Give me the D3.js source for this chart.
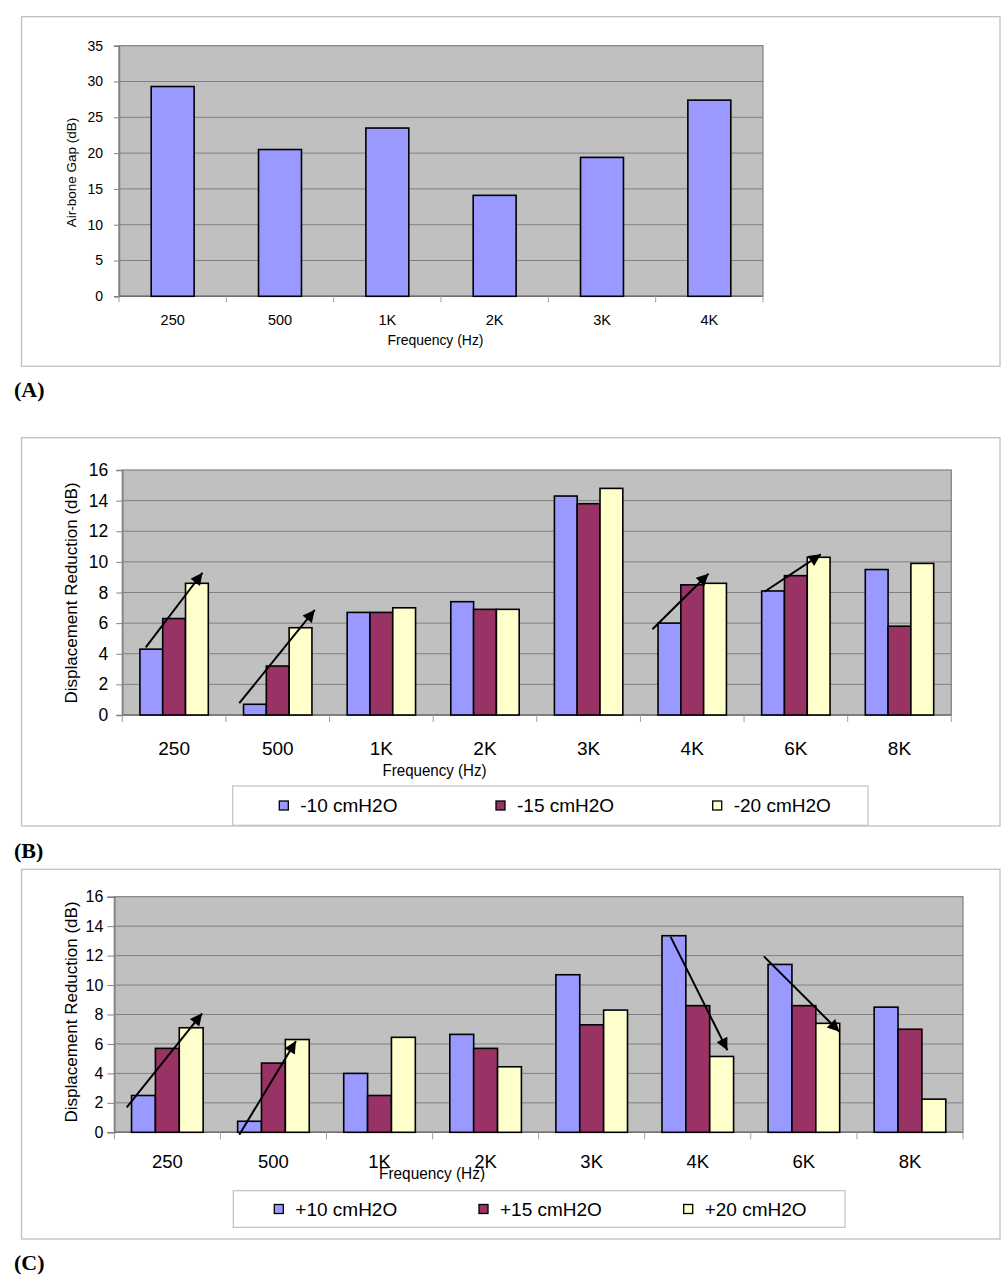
<!DOCTYPE html>
<html><head><meta charset="utf-8">
<script src="https://cdn.jsdelivr.net/npm/d3@7"></script>
<style>body{margin:0;background:#fff;} svg{display:block;}</style>
</head><body>
<svg id="c" width="1002" height="1284"></svg>
<script>
// ---------- DATA ----------
const catsA = ["250","500","1K","2K","3K","4K"];
const valsA = [29.3, 20.5, 23.5, 14.1, 19.4, 27.4];
const ticksA = [0,5,10,15,20,25,30,35];

const catsBC = ["250","500","1K","2K","3K","4K","6K","8K"];
const seriesB = ["-10 cmH2O","-15 cmH2O","-20 cmH2O"];
const b_m10 = [4.3, 0.7, 6.7, 7.4, 14.3, 6.0, 8.1, 9.5];
const b_m15 = [6.3, 3.2, 6.7, 6.9, 13.8, 8.5, 9.1, 5.8];
const b_m20 = [8.6, 5.7, 7.0, 6.9, 14.8, 8.6, 10.3, 9.9];
const seriesC = ["+10 cmH2O","+15 cmH2O","+20 cmH2O"];
const c_p10 = [2.5, 0.75, 4.0, 6.65, 10.7, 13.35, 11.4, 8.5];
const c_p15 = [5.7, 4.7, 2.5, 5.7, 7.3, 8.6, 8.6, 7.0];
const c_p20 = [7.1, 6.3, 6.45, 4.45, 8.3, 5.15, 7.4, 2.25];
const ticksBC = [0,2,4,6,8,10,12,14,16];
// arrows: [startCategoryPos, startValue, endCategoryPos, endValue] (category units)
const arrowsB = [[0.226,4.42,0.774,9.29],[1.129,0.77,1.857,6.86],[5.116,5.6,5.657,9.23],[6.197,8.05,6.741,10.49]];
const arrowsC = [[0.117,1.7,0.828,8.08],[1.178,-0.16,1.712,6.2],[5.244,13.27,5.779,5.57],[6.123,11.95,6.836,6.83]];
const colors = ["#9999FF","#993366","#FFFFCC"];

const svg = d3.select("#c");
const FONT = "'Liberation Sans', Arial, sans-serif";

svg.append("defs").append("marker").attr("id","ah").attr("viewBox","0 0 10 10")
  .attr("refX",10).attr("refY",5).attr("markerWidth",7).attr("markerHeight",6)
  .attr("markerUnits","strokeWidth").attr("orient","auto")
  .append("path").attr("d","M0,0L10,5L0,10z").attr("fill","#000");

function panelBox(y0,y1){
  svg.append("rect").attr("x",21.5).attr("y",y0).attr("width",978.5).attr("height",y1-y0)
    .attr("fill","none").attr("stroke","#c0c0c0").attr("stroke-width",1.3);
}
function panelLabel(txt,y){
  svg.append("text").attr("x",14).attr("y",y).attr("font-family","'Liberation Serif','Times New Roman',serif")
    .attr("font-weight","bold").attr("font-size",22).text(txt);
}

function drawPanel(o){
  const x = d3.scaleBand().domain(o.cats).range([o.x0,o.x1]).paddingInner(0).paddingOuter(0);
  const y = d3.scaleLinear().domain([0,o.ymax]).range([o.yb,o.yt]);
  const g = svg.append("g");
  g.append("rect").attr("x",o.x0).attr("y",o.yt).attr("width",o.x1-o.x0).attr("height",o.yb-o.yt)
    .attr("fill","#C0C0C0").attr("stroke","#808080").attr("stroke-width",1.2);
  // grid
  g.selectAll(".grid").data(o.ticks.filter(t=>t>0 && t<o.ymax)).join("line")
    .attr("x1",o.x0).attr("x2",o.x1).attr("y1",d=>y(d)).attr("y2",d=>y(d))
    .attr("stroke","#808080").attr("stroke-width",1);
  // y axis
  const ya = d3.axisLeft(y).tickValues(o.ticks).tickSize(o.ytick).tickPadding(o.ypad).tickFormat(d3.format("d"));
  const yg = g.append("g").attr("transform",`translate(${o.x0},0)`).call(ya);
  yg.select(".domain").attr("stroke","#808080").attr("stroke-width",1.5);
  yg.selectAll(".tick line").attr("stroke","#808080");
  yg.selectAll("text").attr("font-family",FONT).attr("font-size",o.yfs).attr("fill","#000");
  // x axis (ticks at category boundaries)
  const xb = d3.scaleLinear().domain([0,o.cats.length]).range([o.x0,o.x1]);
  g.append("line").attr("x1",o.x0).attr("x2",o.x1).attr("y1",o.yb).attr("y2",o.yb).attr("stroke","#707070").attr("stroke-width",1.5);
  g.selectAll(".xt").data(d3.range(o.cats.length+1)).join("line")
    .attr("x1",d=>xb(d)).attr("x2",d=>xb(d)).attr("y1",o.yb).attr("y2",o.yb+o.xtick)
    .attr("stroke","#a0a0a0").attr("stroke-width",1);
  g.selectAll(".xl").data(o.cats).join("text")
    .attr("x",d=>x(d)+x.bandwidth()/2).attr("y",o.xly).attr("text-anchor","middle")
    .attr("dominant-baseline","central").attr("font-family",FONT).attr("font-size",o.xfs).text(d=>d);
  // bars
  const n = o.series.length;
  const gw = x.bandwidth()*o.gfrac;
  const sub = d3.scaleBand().domain(d3.range(n)).range([0,gw]).padding(0);
  o.series.forEach((vals,si)=>{
    g.selectAll(".b"+si).data(vals).join("rect")
      .attr("x",(d,i)=>x(o.cats[i])+(x.bandwidth()-gw)/2+sub(si))
      .attr("y",d=>y(d)).attr("width",sub.bandwidth()).attr("height",d=>y(0)-y(d))
      .attr("fill",o.colors[si]).attr("stroke","#000").attr("stroke-width",1.6);
  });
  // arrows
  (o.arrows||[]).forEach(a=>{
    g.append("line").attr("x1",xb(a[0])).attr("y1",y(a[1])).attr("x2",xb(a[2])).attr("y2",y(a[3]))
      .attr("stroke","#000").attr("stroke-width",2).attr("marker-end","url(#ah)");
  });
  // axis titles
  g.append("text").attr("transform",`translate(${o.ytx},${o.yty}) rotate(-90)`)
    .attr("text-anchor","middle").attr("dominant-baseline","central")
    .attr("font-family",FONT).attr("font-size",o.ytfs).text(o.ytitle);
  g.append("text").attr("x",o.xtx).attr("y",o.xty).attr("text-anchor","middle").attr("dominant-baseline","central")
    .attr("font-family",FONT).attr("font-size",o.xtfs).attr("textLength",o.xtlen).attr("lengthAdjust","spacingAndGlyphs").text("Frequency (Hz)");
  // legend
  if(o.legend){
    const L=o.legend;
    g.append("rect").attr("x",L.x).attr("y",L.y).attr("width",L.w).attr("height",L.h)
      .attr("fill","#fff").attr("stroke","#c0c0c0").attr("stroke-width",1.2);
    L.names.forEach((nm,i)=>{
      const sx = L.sx + i*L.step;
      g.append("rect").attr("x",sx).attr("y",L.cy-4.5).attr("width",9).attr("height",9)
        .attr("fill",o.colors[i]).attr("stroke","#000").attr("stroke-width",1.3);
      g.append("text").attr("x",sx+21).attr("y",L.cy).attr("dominant-baseline","central")
        .attr("font-family",FONT).attr("font-size",L.fs).text(nm);
    });
  }
}

// Panel A
panelBox(16.7,366.3);
drawPanel({cats:catsA, series:[valsA], colors:colors, gfrac:0.4, ymax:35, ticks:ticksA,
  x0:119, x1:763, yt:45.7, yb:296.3, ytick:5, ypad:11, yfs:14, xtick:6, xly:320, xfs:14.5,
  ytx:71, yty:172.5, ytfs:13.5, ytitle:"Air-bone Gap (dB)",
  xtx:435.5, xty:340, xtfs:14, xtlen:96});
panelLabel("(A)",397);

// Panel B
panelBox(437.7,826);
drawPanel({cats:catsBC, series:[b_m10,b_m15,b_m20], colors:colors, gfrac:0.66, ymax:16, ticks:ticksBC,
  x0:122.3, x1:951.3, yt:470, yb:715, ytick:6, ypad:8, yfs:17.5, xtick:7, xly:748, xfs:19,
  ytx:71.5, yty:593, ytfs:17, ytitle:"Displacement Reduction (dB)",
  xtx:434.5, xty:770, xtfs:16, xtlen:104,
  arrows:arrowsB,
  legend:{x:232.7,y:786,w:635.3,h:39.3,sx:279.3,step:216.7,cy:805.5,fs:19,names:seriesB}});
panelLabel("(B)",858);

// Panel C
panelBox(869.3,1239);
drawPanel({cats:catsBC, series:[c_p10,c_p15,c_p20], colors:colors, gfrac:0.675, ymax:16, ticks:ticksBC,
  x0:114.3, x1:963, yt:896.7, yb:1132.3, ytick:7, ypad:4, yfs:16, xtick:7, xly:1161, xfs:18.5,
  ytx:71.5, yty:1012, ytfs:17, ytitle:"Displacement Reduction (dB)",
  xtx:432, xty:1173, xtfs:16, xtlen:106,
  arrows:arrowsC,
  legend:{x:233.3,y:1190.7,w:611.7,h:36.6,sx:274.3,step:204.7,cy:1209,fs:19,names:seriesC}});
panelLabel("(C)",1270);
</script>
</body></html>
